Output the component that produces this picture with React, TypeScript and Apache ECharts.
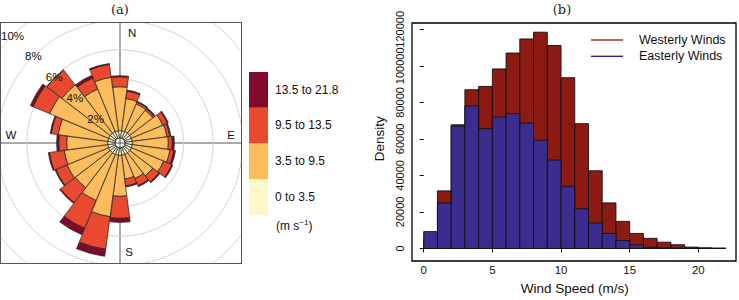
import React, { useEffect, useRef } from 'react';
import * as echarts from 'echarts';

// ---------- Panel (a): wind rose ----------
const DIRECTIONS = ['0', '15', '30', '45', '60', '75', '90', '105', '120', '135', '150', '165',
  '180', '195', '210', '225', '240', '255', '270', '285', '300', '315', '330', '345'];
const SPEED_BINS = ['0 to 3.5', '3.5 to 9.5', '9.5 to 13.5', '13.5 to 21.8'];
const SPEED_COLORS = ['#FEF7CC', '#FDBD5C', '#E9492F', '#7F0A2B'];
// frequency (%) per direction for each speed bin
const CALM_SPEED = [0.5, 0.5, 0.5, 0.5, 0.5, 0.5, 0.5, 0.5, 0.5, 0.5, 0.5, 0.5,
  0.5, 0.5, 0.5, 0.5, 0.5, 0.5, 0.5, 0.5, 0.5, 0.5, 0.5, 0.5];
const LOW_SPEED = [2.99, 2.21, 2.04, 1.97, 2.31, 2.38, 2.45, 2.59, 2.38, 1.97, 1.77, 1.63,
  2.79, 4.22, 3.40, 2.99, 3.06, 2.99, 2.79, 3.40, 4.35, 4.15, 3.13, 3.67];
const MID_SPEED = [0.68, 0.51, 0.14, 0.14, 0.34, 0.2, 0.27, 0.27, 0.61, 0.54, 0.54, 0.48,
  1.50, 2.24, 2.04, 1.29, 0.82, 1.02, 0.54, 0.48, 1.22, 1.29, 0.82, 0.88];
const HIGH_SPEED = [0.07, 0.07, 0.05, 0.07, 0.07, 0.07, 0.14, 0.11, 0.07, 0.07, 0.07, 0.07,
  0.27, 0.48, 0.48, 0.07, 0.07, 0.07, 0.14, 0.07, 0.2, 0.0, 0.2, 0.07];
const ROSE_SERIES = [CALM_SPEED, LOW_SPEED, MID_SPEED, HIGH_SPEED];
const PCT_TICKS_MAX = 10;

// ---------- Panel (b): histogram ----------
const BIN_EDGES = [0, 1, 2, 3, 4, 5, 6, 7, 8, 9, 10, 11, 12, 13, 14, 15, 16, 17, 18, 19, 20, 21, 22];
const WESTERLY = [5000, 31500, 67700, 86900, 88700, 98300, 107000, 114700, 118400, 111100, 93500,
  68300, 42500, 24900, 14800, 8200, 5500, 3400, 2000, 700, 300, 100];
const EASTERLY = [9200, 24900, 67000, 78000, 65600, 72000, 73800, 68600, 59200, 48400, 34000,
  21700, 13900, 8200, 4300, 2000, 700, 200, 100, 0, 0, 0];
const X_TICKS = [0, 5, 10, 15, 20];
const HIST_NAMES = ['Westerly Winds', 'Easterly Winds'];
const HIST_COLORS = ['#8D1B14', '#3B2D90'];
const LEGEND_LINE_COLORS = ['#8B1010', '#1C1C8E'];

const SANS = 'Liberation Sans, Arial, sans-serif';
const SERIF = 'DejaVu Serif, serif';

function histData(values: number[]) {
  return values.map((v, i) => [BIN_EDGES[i], BIN_EDGES[i + 1], v]);
}

function histSeries(name: string, values: number[], color: string) {
  return {
    type: 'custom',
    name,
    xAxisIndex: 0,
    yAxisIndex: 0,
    data: histData(values),
    encode: { x: [0, 1], y: 2 },
    renderItem: (params: any, api: any) => {
      const p0 = api.coord([api.value(0), api.value(2)]);
      const p1 = api.coord([api.value(1), 0]);
      return {
        type: 'rect',
        shape: { x: p0[0], y: p0[1], width: p1[0] - p0[0], height: p1[1] - p0[1] },
        style: { fill: color, stroke: '#111', lineWidth: 0.9 },
      };
    },
  };
}

function mainOption() {
  const legendGraphics: any[] = [];
  // rose legend (top = highest bin)
  const order = [3, 2, 1, 0];
  order.forEach((k, j) => {
    legendGraphics.push({
      type: 'rect', shape: { x: 249, y: 72 + j * 35.8, width: 19, height: 35.8 },
      style: { fill: SPEED_COLORS[k], stroke: 'none' },
    });
    legendGraphics.push({
      type: 'text', x: 275, y: 89.5 + j * 35.8,
      style: { text: SPEED_BINS[k], fill: '#111', font: `12px ${SANS}`, textVerticalAlign: 'middle' },
    });
  });
  legendGraphics.push({
    type: 'text', x: 276, y: 226,
    style: {
      text: '(m s{sup|−1})', fill: '#111', font: `12px ${SANS}`, textVerticalAlign: 'middle',
      rich: { sup: { fontSize: 8, verticalAlign: 'top', padding: [0, 0, 7, 0], fontFamily: SANS } },
    },
  });
  // histogram legend
  HIST_NAMES.forEach((n, i) => {
    legendGraphics.push({
      type: 'line', shape: { x1: 591, y1: 40 + i * 16.3, x2: 623, y2: 40 + i * 16.3 },
      style: { stroke: LEGEND_LINE_COLORS[i], lineWidth: 1.3 },
    });
    legendGraphics.push({
      type: 'text', x: 639, y: 40 + i * 16.3,
      style: { text: n, fill: '#111', font: `12.5px ${SANS}`, textVerticalAlign: 'middle' },
    });
  });
  legendGraphics.push({
    type: 'text', x: 120, y: 9,
    style: { text: '(a)', fill: '#222', font: `13px ${SERIF}`, textAlign: 'center', textVerticalAlign: 'middle' },
  });
  legendGraphics.push({
    type: 'text', x: 562, y: 9,
    style: { text: '(b)', fill: '#222', font: `13px ${SERIF}`, textAlign: 'center', textVerticalAlign: 'middle' },
  });

  return {
    animation: false,
    grid: [
      { left: 423.7, top: 29.3, width: 302.1, height: 225 },
      { left: 412, top: 23, width: 324, height: 238, show: true, borderColor: '#000', borderWidth: 1.3, backgroundColor: 'transparent' },
    ],
    xAxis: [
      {
        gridIndex: 0, type: 'value', min: 0, max: 22, interval: 5, offset: 6.7,
        axisLine: { show: false },
        axisTick: { show: true, length: 4, customValues: X_TICKS, lineStyle: { color: '#000', width: 1 } },
        axisLabel: { customValues: X_TICKS, margin: 9, fontSize: 11.5, color: '#111', fontFamily: SANS },
        splitLine: { show: false },
        name: 'Wind Speed (m/s)', nameLocation: 'middle', nameGap: 25,
        nameTextStyle: { fontSize: 13.5, color: '#111', fontFamily: SANS },
      },
      { gridIndex: 1, type: 'value', show: false, min: 0, max: 1 },
    ],
    yAxis: [
      {
        gridIndex: 0, type: 'value', min: 0, max: 120000, interval: 20000, offset: 11.7,
        axisLine: { show: false },
        axisTick: { show: true, length: 4, lineStyle: { color: '#000', width: 1 } },
        axisLabel: {
          rotate: 90, margin: 7, fontSize: 11, color: '#111', fontFamily: SANS, hideOverlap: false,
          formatter: (v: number) => String(v),
        },
        splitLine: { show: false },
        name: 'Density', nameLocation: 'middle', nameGap: 26,
        nameTextStyle: { fontSize: 13.5, color: '#111', fontFamily: SANS },
      },
      { gridIndex: 1, type: 'value', show: false, min: 0, max: 1 },
    ],
    series: [
      histSeries(HIST_NAMES[0], WESTERLY, HIST_COLORS[0]),
      histSeries(HIST_NAMES[1], EASTERLY, HIST_COLORS[1]),
    ],
    graphic: legendGraphics,
  };
}

function roseOption() {
  const cx = 119, cy = 120;
  return {
    animation: false,
    polar: [
      { center: [cx, cy], radius: [5, 152] },
      { center: [cx, cy], radius: [5, 152] },
    ],
    angleAxis: [
      {
        polarIndex: 0, type: 'category', data: DIRECTIONS, startAngle: 97.5, clockwise: true,
        axisLine: { show: false }, axisTick: { show: false }, axisLabel: { show: false }, splitLine: { show: false },
      },
      {
        polarIndex: 1, type: 'value', min: 0, max: 360, startAngle: 135,
        axisLine: { show: false }, axisTick: { show: false }, axisLabel: { show: false }, splitLine: { show: false },
      },
    ],
    radiusAxis: [
      {
        polarIndex: 0, type: 'value', min: 0, max: PCT_TICKS_MAX, interval: 2,
        axisLine: { show: false }, axisTick: { show: false }, axisLabel: { show: false },
        splitLine: { show: true, lineStyle: { color: '#d4d4d4', width: 1 } },
      },
      {
        polarIndex: 1, type: 'value', min: 0, max: PCT_TICKS_MAX, interval: 2, z: 10,
        axisLine: { show: false }, axisTick: { show: false }, splitLine: { show: false },
        axisLabel: {
          show: true, margin: 0, align: 'center', verticalAlign: 'middle', fontSize: 11.5,
          color: '#111', fontFamily: SANS,
          formatter: (v: number) => (v === 0 ? '' : `${v}%`),
        },
      },
    ],
    series: ROSE_SERIES.map((vals, k) => ({
      type: 'bar', coordinateSystem: 'polar', polarIndex: 0, stack: 'speed',
      name: SPEED_BINS[k], data: vals, barCategoryGap: '2%',
      itemStyle: { color: SPEED_COLORS[k], borderColor: '#222', borderWidth: 0.7 },
    })),
    graphic: [
      { type: 'line', z: 0, shape: { x1: 0, y1: cy, x2: 240, y2: cy }, style: { stroke: '#555', lineWidth: 1 } },
      { type: 'line', z: 0, shape: { x1: cx, y1: 0, x2: cx, y2: 240 }, style: { stroke: '#555', lineWidth: 1 } },
      { type: 'circle', z: 1, shape: { cx, cy, r: 5 }, style: { fill: 'none', stroke: '#333', lineWidth: 1 } },
      { type: 'text', x: 127, y: 10, style: { text: 'N', fill: '#111', font: `11.5px ${SANS}`, textVerticalAlign: 'middle' } },
      { type: 'text', x: 230, y: 112, style: { text: 'E', fill: '#111', font: `11.5px ${SANS}`, textAlign: 'center', textVerticalAlign: 'middle' } },
      { type: 'text', x: 128, y: 229, style: { text: 'S', fill: '#111', font: `11.5px ${SANS}`, textAlign: 'center', textVerticalAlign: 'middle' } },
      { type: 'text', x: 10, y: 112, style: { text: 'W', fill: '#111', font: `11.5px ${SANS}`, textAlign: 'center', textVerticalAlign: 'middle' } },
    ],
  };
}

export default function App() {
  const mainRef = useRef<HTMLDivElement>(null);
  const roseRef = useRef<HTMLDivElement>(null);
  useEffect(() => {
    const main = echarts.init(mainRef.current!, null, { renderer: 'svg' });
    const rose = echarts.init(roseRef.current!, null, { renderer: 'svg' });
    main.setOption(mainOption() as any);
    rose.setOption(roseOption() as any);
    return () => {
      main.dispose();
      rose.dispose();
    };
  }, []);
  return (
    <div style={{ position: 'fixed', left: 0, top: 0, width: 739, height: 300, background: '#fff' }}>
      <div ref={mainRef} style={{ position: 'absolute', left: 0, top: 0, width: 739, height: 300 }} />
      <div style={{ position: 'absolute', left: 1, top: 23, width: 240, height: 240, overflow: 'hidden' }}>
        <div ref={roseRef} style={{ width: 240, height: 240 }} />
      </div>
      <div style={{ position: 'absolute', left: 0, top: 22, width: 242, height: 242, border: '1px solid #555', boxSizing: 'border-box', pointerEvents: 'none' }} />
    </div>
  );
}
